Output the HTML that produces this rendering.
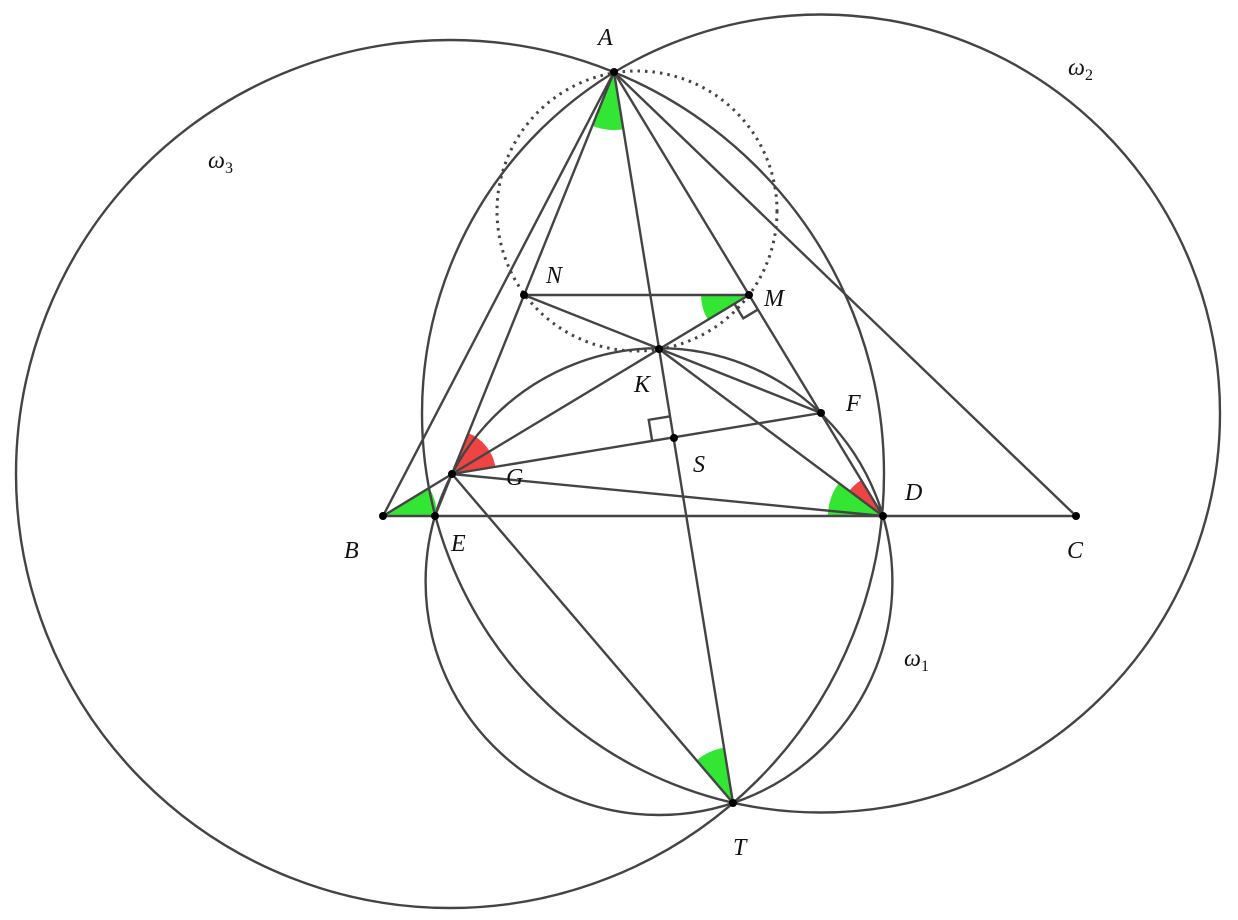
<!DOCTYPE html>
<html><head><meta charset="utf-8"><style>
html,body{margin:0;padding:0;background:#fff;}
svg{display:block;}
text{font-family:"Liberation Serif",serif;font-style:italic;font-size:24px;fill:#111;}
</style></head><body>
<svg id="s" width="1238" height="920" viewBox="0 0 1238 920" xmlns="http://www.w3.org/2000/svg">
<g id="wedges"></g>
<g fill="none" stroke="#444" stroke-width="2.4">
<circle cx="450" cy="474" r="434"/>
<circle cx="821" cy="413.5" r="399"/>
<circle cx="659" cy="581.6" r="233.4"/>
<circle cx="637" cy="211" r="140" stroke-dasharray="2.5,5" stroke-width="3"/>
<line x1="614" y1="72" x2="383" y2="516"/>
<line x1="614" y1="72" x2="1076" y2="516"/>
<line x1="383" y1="516" x2="1076" y2="516"/>
<line x1="614" y1="72" x2="733" y2="803"/>
<line x1="614" y1="72" x2="435" y2="516"/>
<line x1="614" y1="72" x2="883" y2="516"/>
<line x1="524" y1="295" x2="749" y2="295"/>
<line x1="524" y1="295" x2="821" y2="413"/>
<line x1="452" y1="474" x2="749" y2="295"/>
<line x1="452" y1="474" x2="821" y2="413"/>
<line x1="452" y1="474" x2="883" y2="516"/>
<line x1="452" y1="474" x2="733" y2="803"/>
<line x1="383" y1="516" x2="452" y2="474"/>
<line x1="659" y1="349" x2="883" y2="516"/>
</g>
<g id="marks" fill="none" stroke="#444" stroke-width="2.4"></g>
<g fill="#000">
<circle cx="614" cy="72" r="4"/><circle cx="383" cy="516" r="4"/><circle cx="1076" cy="516" r="4"/>
<circle cx="883" cy="516" r="4"/><circle cx="435" cy="516" r="4"/><circle cx="733" cy="803" r="4"/>
<circle cx="524" cy="295" r="4"/><circle cx="749" cy="295" r="4"/><circle cx="659" cy="349" r="4"/>
<circle cx="821" cy="413" r="4"/><circle cx="452" cy="474" r="4"/><circle cx="674" cy="438" r="4"/>
</g>
<text x="598" y="45">A</text>
<text x="344" y="558">B</text>
<text x="1067" y="558">C</text>
<text x="905" y="500">D</text>
<text x="451" y="551">E</text>
<text x="846" y="411">F</text>
<text x="506" y="485">G</text>
<text x="634" y="392">K</text>
<text x="764" y="306">M</text>
<text x="546" y="283">N</text>
<text x="693" y="472">S</text>
<text x="733" y="855">T</text>
<text x="208" y="168">ω<tspan font-size="16" dy="5" font-style="normal">3</tspan></text>
<text x="1068" y="75">ω<tspan font-size="16" dy="5" font-style="normal">2</tspan></text>
<text x="904" y="666">ω<tspan font-size="16" dy="5" font-style="normal">1</tspan></text>
</svg>
<script>
var W=document.getElementById('wedges'),Mk=document.getElementById('marks'),NS='http://www.w3.org/2000/svg';
function wedge(cx,cy,ax,ay,bx,by,r,col){
 var a1=Math.atan2(ay-cy,ax-cx),a2=Math.atan2(by-cy,bx-cx);
 var d=a2-a1;while(d>Math.PI)d-=2*Math.PI;while(d<-Math.PI)d+=2*Math.PI;
 var sw=d>0?1:0;
 var p='M'+cx+','+cy+' L'+(cx+r*Math.cos(a1))+','+(cy+r*Math.sin(a1))+' A'+r+','+r+' 0 0 '+sw+' '+(cx+r*Math.cos(a1+d))+','+(cy+r*Math.sin(a1+d))+' Z';
 var e=document.createElementNS(NS,'path');e.setAttribute('d',p);e.setAttribute('fill',col);W.appendChild(e);
}
function sq(cx,cy,ax,ay,bx,by,s){
 var u=[ax-cx,ay-cy],v=[bx-cx,by-cy];var lu=Math.hypot(u[0],u[1]),lv=Math.hypot(v[0],v[1]);
 u=[u[0]/lu*s,u[1]/lu*s];v=[v[0]/lv*s,v[1]/lv*s];
 var e=document.createElementNS(NS,'polyline');
 e.setAttribute('points',(cx+u[0])+','+(cy+u[1])+' '+(cx+u[0]+v[0])+','+(cy+u[1]+v[1])+' '+(cx+v[0])+','+(cy+v[1]));
 Mk.appendChild(e);
}
var G='#33e633',R='#f04444';
wedge(614,72,435,516,733,803,58,G);
wedge(749,295,524,295,452,474,48,G);
wedge(383,516,435,516,452,474,54,G);
wedge(733,803,452,474,614,72,56,G);
wedge(452,474,524,295,821,413,44,R);
wedge(883,516,659,349,614,72,42,R);
wedge(883,516,383,516,659,349,55,G);
sq(749,295,452,474,883,516,17);
sq(674,438,614,72,452,474,22);
</script>
</body></html>
